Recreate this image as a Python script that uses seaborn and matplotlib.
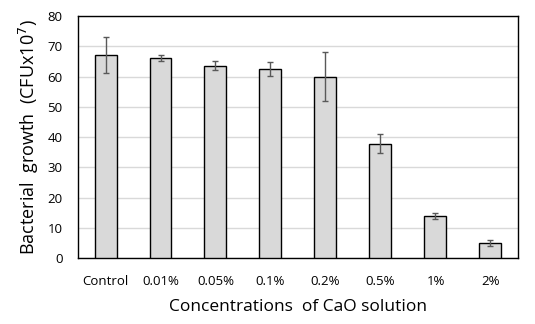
import matplotlib
matplotlib.use("Agg")
import matplotlib.pyplot as plt
import seaborn as sns
import pandas as pd
import numpy as np

concentrations = ["Control", "0.01%", "0.05%", "0.1%", "0.2%", "0.5%", "1%", "2%"]
growth = [67, 66, 63.5, 62.5, 60, 37.8, 13.9, 4.9]
growth_sd = [6, 1, 1.5, 2.4, 8, 3.2, 1, 1]
y_ticks = [0, 10, 20, 30, 40, 50, 60, 70, 80]

sns.set_theme(style="white")
plt.rcParams["font.family"] = ["Open Sans", "DejaVu Sans"]
plt.rcParams["text.color"] = "black"
plt.rcParams["axes.labelcolor"] = "black"

df = pd.DataFrame({"conc": concentrations, "growth": growth})

fig = plt.figure(figsize=(5.35, 3.24), dpi=100)
ax = fig.add_axes([0.1458, 0.2037, 0.8224, 0.7469])

sns.barplot(data=df, x="conc", y="growth", color="#d9d9d9", edgecolor="black",
            linewidth=1.0, width=0.4, errorbar=None, saturation=1, ax=ax, zorder=3)
ax.errorbar(np.arange(len(concentrations)), growth, yerr=growth_sd, fmt="none",
            ecolor="#595959", elinewidth=1.0, capsize=2.5, capthick=1.0, zorder=4)

ax.set_ylim(0, 80)
ax.set_xlim(-0.5, len(concentrations) - 0.5)
ax.set_yticks(y_ticks)
ax.yaxis.grid(True, color="#d9d9d9", linewidth=1.0, zorder=0)
ax.set_axisbelow(True)
for s in ax.spines.values():
    s.set_visible(True)
    s.set_color("black")
    s.set_linewidth(1.0)
ax.tick_params(axis="both", length=0, labelsize=9.5, colors="black", pad=12)
ax.tick_params(axis="y", pad=11)
ax.set_xlabel("Concentrations  of CaO solution", fontsize=12.5, labelpad=8)
ax.set_ylabel("Bacterial  growth  (CFUx10$^{7}$)", fontsize=13, labelpad=5)

fig.savefig("out.png", dpi=100)
